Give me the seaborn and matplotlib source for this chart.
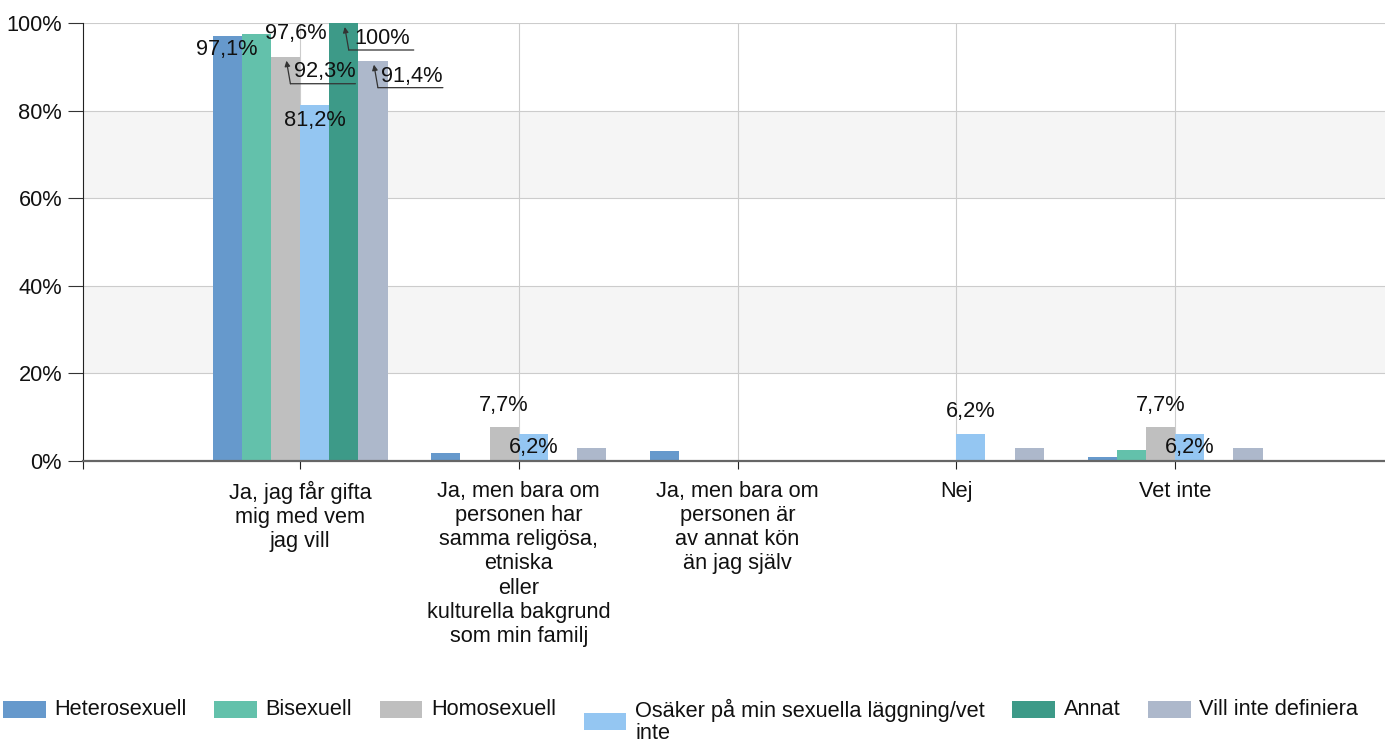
import pandas as pd
import seaborn as sns
import matplotlib.pyplot as plt
from matplotlib.transforms import offset_copy

# categories (answer options) and their wrapped axis labels
categories = [
    "Ja, jag får gifta mig med vem jag vill",
    "Ja, men bara om personen har samma religösa, etniska eller kulturella bakgrund som min familj",
    "Ja, men bara om personen är av annat kön än jag själv",
    "Nej",
    "Vet inte",
]
category_labels = [
    "Ja, jag får gifta\nmig med vem\njag vill",
    "Ja, men bara om\npersonen har\nsamma religösa,\netniska\neller\nkulturella bakgrund\nsom min familj",
    "Ja, men bara om\npersonen är\nav annat kön\nän jag själv",
    "Nej",
    "Vet inte",
]
groups = ["Heterosexuell", "Bisexuell", "Homosexuell",
          "Osäker på min sexuella läggning/vet inte", "Annat", "Vill inte definiera"]

# percent per category, one list per group
heterosexuell = [97.1, 1.8, 2.2, 0.0, 0.9]
bisexuell = [97.6, 0.0, 0.0, 0.0, 2.4]
homosexuell = [92.3, 7.7, 0.0, 0.0, 7.7]
osaker = [81.2, 6.2, 0.0, 6.2, 6.2]
annat = [100.0, 0.0, 0.0, 0.0, 0.0]
vill_inte = [91.4, 2.9, 0.0, 2.9, 2.9]

colors = ["#6699cc", "#63c1ab", "#bfbfbf", "#94c6f2", "#3d9a88", "#adb8cb"]

series = [heterosexuell, bisexuell, homosexuell, osaker, annat, vill_inte]
rows = []
for g, vals in zip(groups, series):
    for c, v in zip(categories, vals):
        rows.append({"kategori": c, "grupp": g, "andel": v})
df = pd.DataFrame(rows)

sns.set_style("white")
plt.rcParams["font.family"] = ["Liberation Sans", "DejaVu Sans"]
FS = 15.7
TXT = "#111111"

fig = plt.figure(figsize=(13.85, 7.42), dpi=100)
ax = fig.add_axes([83 / 1385, 1 - 461 / 742, 1302 / 1385, 438 / 742])

# alternating bands
ax.axhspan(20, 40, color="#f5f5f5", zorder=0, lw=0)
ax.axhspan(60, 80, color="#f5f5f5", zorder=0, lw=0)

sns.barplot(data=df, x="kategori", y="andel", hue="grupp", order=categories,
            hue_order=groups, palette=colors, saturation=1, width=0.8,
            linewidth=0, errorbar=None, ax=ax)

ax.set_axisbelow(True)
ax.grid(True, axis="both", color="#cccccc", lw=0.8)
ax.set_ylim(0, 100)
ax.set_xlim(-0.992, 4.96)
ax.set_xlabel("")
ax.set_ylabel("")

ax.set_yticks([0, 20, 40, 60, 80, 100])
ax.set_yticklabels([f"{v}%" for v in [0, 20, 40, 60, 80, 100]])
ax.set_xticks(range(len(categories)))
ax.set_xticklabels(category_labels, linespacing=1.2)
ax.set_xticks([-0.992], minor=True)
ax.tick_params(axis="y", length=10.8, width=0.8, color="#333333", pad=4.3,
               labelsize=FS, labelcolor=TXT, left=True)
ax.tick_params(axis="x", which="both", length=5.8, width=0.8, color="#222222",
               pad=8.5, labelsize=FS, labelcolor=TXT, bottom=True)

for s in ["top", "right"]:
    ax.spines[s].set_visible(False)
ax.spines["left"].set_color("#222222")
ax.spines["left"].set_linewidth(0.8)
ax.spines["bottom"].set_color("#666666")
ax.spines["bottom"].set_linewidth(1.6)


def fmt(v):
    s = f"{v:.1f}".rstrip("0").rstrip(".")
    return s.replace(".", ",") + "%"


# label offsets in pixels from the bar top centre; "arrow" = pulled aside with a connector
label_pos = {
    (0, 0): (0, -14, False),
    (0, 1): (40, 0, False),
    (0, 2): (39, -15, True),
    (0, 3): (0, -15, False),
    (0, 4): (38, -15, True),
    (0, 5): (39, -16, True),
    (1, 2): (0, 22, False),
    (1, 3): (0, -14, False),
    (3, 3): (0, 22, False),
    (4, 2): (0, 22, False),
    (4, 3): (0, -14, False),
}

for gi, cont in enumerate(ax.containers):
    for bar in cont:
        h = bar.get_height()
        if h < 5:
            continue
        bx = bar.get_x() + bar.get_width() / 2
        ci = int(round(bx))
        dx, dy, arrow = label_pos.get((ci, gi), (0, -14, False))
        ax.annotate(fmt(h), xy=(bx, h), xytext=(dx, dy), textcoords="offset pixels",
                    ha="center", va="center", fontsize=FS, color=TXT, zorder=5)
        if arrow:
            tip = offset_copy(ax.transData, fig=fig, x=1, y=-4, units="dots")
            corner = offset_copy(ax.transData, fig=fig, x=5, y=-27, units="dots")
            end = offset_copy(ax.transData, fig=fig, x=70, y=-27, units="dots")
            ax.annotate("", xy=(bx, h), xycoords=tip, xytext=(bx, h), textcoords=corner,
                        arrowprops=dict(arrowstyle="-|>", color="#333333", lw=0.9,
                                        shrinkA=0, shrinkB=0, mutation_scale=8))
            ax.annotate("", xy=(bx, h), xycoords=end, xytext=(bx, h), textcoords=corner,
                        arrowprops=dict(arrowstyle="-", color="#333333", lw=0.9,
                                        shrinkA=0, shrinkB=0))

# legend at the bottom
old = ax.get_legend()
handles = old.legend_handles
old.remove()
legend_labels = [g if g != groups[3] else "Osäker på min sexuella läggning/vet\ninte" for g in groups]
leg = fig.legend(handles, legend_labels, loc="upper left",
                 bbox_to_anchor=(3 / 1385, 1 - 699 / 742), ncol=6, frameon=False,
                 fontsize=FS, handlelength=1.95, handleheight=0.82, handletextpad=0.4,
                 columnspacing=1.27, borderpad=0, borderaxespad=0, labelcolor=TXT)
leg.get_texts()[3].set_linespacing(1.08)
box = leg._legend_handle_box
box.align = "top"
for col in box.get_children():
    for item in col.get_children():
        item.align = "center"

fig.savefig("out.png", dpi=100)
